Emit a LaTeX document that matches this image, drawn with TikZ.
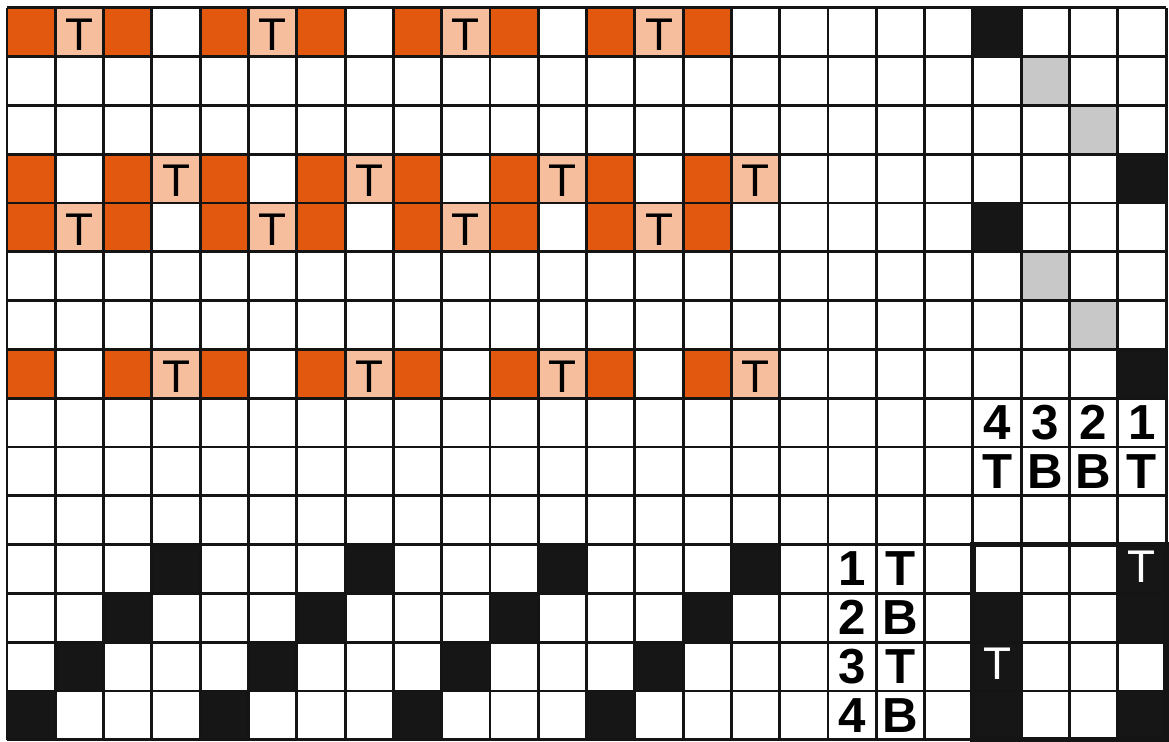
\documentclass[tikz,border=0pt]{standalone}
\usepackage{fontspec}
\setmainfont{Liberation Sans}
\usepackage{tikz}
\usetikzlibrary{calc}
\definecolor{rustorange}{RGB}{226,88,14}
\definecolor{paleorange}{RGB}{246,190,156}
\definecolor{skipgray}{RGB}{200,200,200}
\definecolor{inkblack}{RGB}{22,22,22}
\newcommand{\paintcell}[3]{\fill[#3] ({#1-1},{#2-1}) rectangle ({#1},{#2});}

\begin{document}
\begin{tikzpicture}[x=1cm,y=-1.0104cm,
    gridline/.style={line width=1.7pt,black!92},
    floatfill/.style={fill=rustorange},
    tiefill/.style={fill=paleorange},
    liftfill/.style={fill=inkblack},
    skipfill/.style={fill=skipgray},
    tmark/.style={inner sep=0pt,font=\fontsize{27}{27}\selectfont},
    numlbl/.style={inner sep=0pt,font=\bfseries\fontsize{29}{29}\selectfont}]
  \useasboundingbox (-0.145,-0.16) rectangle (24.06,15.04);
  % drawdown, rows 1 and 5
  \foreach \r in {1,5}{
    \foreach \k in {0,...,3}{
      \paintcell{4*\k+1}{\r}{floatfill}
      \paintcell{4*\k+2}{\r}{tiefill}
      \paintcell{4*\k+3}{\r}{floatfill}
    }
  }
  % drawdown, rows 4 and 8
  \foreach \r in {4,8}{
    \foreach \k in {0,...,3}{
      \paintcell{4*\k+1}{\r}{floatfill}
      \paintcell{4*\k+3}{\r}{floatfill}
      \paintcell{4*\k+4}{\r}{tiefill}
    }
  }
  % treadling
  \foreach \r in {1,5}{ \paintcell{21}{\r}{liftfill} }
  \foreach \r in {2,6}{ \paintcell{22}{\r}{skipfill} }
  \foreach \r in {3,7}{ \paintcell{23}{\r}{skipfill} }
  \foreach \r in {4,8}{ \paintcell{24}{\r}{liftfill} }
  % threading
  \foreach \r in {12,...,15}{
    \foreach \k in {0,...,3}{ \paintcell{4*\k+16-\r}{\r}{liftfill} }
  }
  % tie-up
  \foreach \r in {13,14,15}{ \paintcell{21}{\r}{liftfill} }
  \foreach \r in {12,13,15}{ \paintcell{24}{\r}{liftfill} }
  % grid lines
  \foreach \c in {0,...,24}{ \draw[gridline] (\c,0) -- (\c,15); }
  \foreach \r in {0,...,15}{ \draw[gridline] (0,\r) -- (24,\r); }
  \draw[line width=3.2pt,black!92] (20,11) rectangle (24,15);
  % T marks in the drawdown
  \foreach \r in {1,5}{
    \foreach \k in {0,...,3}{ \node[tmark] (ta-\r-\k) at (4*\k+1.5,\r-0.45) {T}; }
  }
  \foreach \r in {4,8}{
    \foreach \k in {0,...,3}{ \node[tmark] (tb-\r-\k) at (4*\k+3.5,\r-0.45) {T}; }
  }
  % shaft labels
  \foreach \d/\s [count=\i] in {4/T,3/B,2/B,1/T}{
    \node[numlbl] (shaftnum-\i) at (19.5+\i,8.5) {\d};
    \node[numlbl] (shaftside-\i) at (19.5+\i,9.5) {\s};
  }
  \foreach \s [count=\i] in {T,B,T,B}{
    \node[numlbl] (treadnum-\i) at (17.5,10.5+\i) {\i};
    \node[numlbl] (treadside-\i) at (18.5,10.5+\i) {\s};
  }
  % white marks in the tie-up
  \node[tmark,text=white] (tieup-a) at (20.5,13.45) {T};
  \node[tmark,text=white] (tieup-b) at (23.5,11.45) {T};
\end{tikzpicture}
\end{document}
